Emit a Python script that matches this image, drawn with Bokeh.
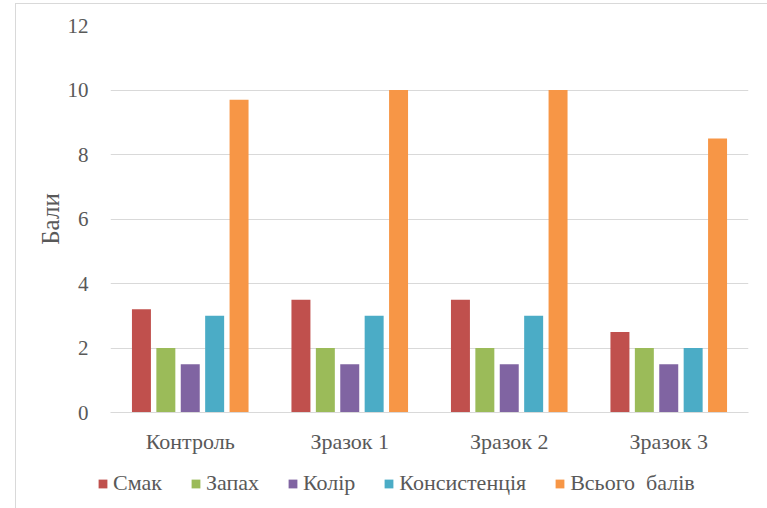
from bokeh.plotting import figure
from bokeh.layouts import column
from bokeh.models import ColumnDataSource, FactorRange, Legend, LegendItem, Range1d, FixedTicker
from bokeh.transform import dodge
from bokeh.embed import file_html
from bokeh.resources import INLINE

categories = ["Контроль", "Зразок 1", "Зразок 2", "Зразок 3"]
series_names = ["Смак", "Запах", "Колір", "Консистенція", "Всього\u00a0 балів"]
smak = [3.2, 3.5, 3.5, 2.5]
zapakh = [2.0, 2.0, 2.0, 2.0]
kolir = [1.5, 1.5, 1.5, 1.5]
konsystentsiia = [3.0, 3.0, 3.0, 2.0]
vsogo = [9.7, 10.0, 10.0, 8.5]
y_ticks = [0, 2, 4, 6, 8, 10, 12]

colors = ["#C0504D", "#9BBB59", "#8064A2", "#4BACC6", "#F79646"]
keys = ["smak", "zapakh", "kolir", "kons", "vsogo"]

source = ColumnDataSource(dict(cat=categories, smak=smak, zapakh=zapakh,
                               kolir=kolir, kons=konsystentsiia, vsogo=vsogo))

FONT = "Liberation Serif"
GREY = "#595959"
W = 751

# main bar chart
p = figure(x_range=FactorRange(*categories, range_padding=0), y_range=Range1d(0, 12),
           width=W, height=452, output_backend="svg", toolbar_location=None,
           min_border_left=94, min_border_right=19, min_border_top=21, min_border_bottom=43)
p.outline_line_color = None
p.frame_align = False

step = 0.153
bar_w = 0.119
for i, (k, c) in enumerate(zip(keys, colors)):
    p.vbar(x=dodge("cat", (i - 2) * step, range=p.x_range), top=k, width=bar_w,
           source=source, fill_color=c, line_color=None)

p.yaxis.ticker = FixedTicker(ticks=y_ticks)
p.yaxis.axis_label = "Бали"
p.yaxis.axis_label_text_font = FONT
p.yaxis.axis_label_text_font_style = "normal"
p.yaxis.axis_label_text_font_size = "25px"
p.yaxis.axis_label_text_color = GREY
p.yaxis.axis_label_standoff = 1
p.yaxis.major_label_text_font = FONT
p.yaxis.major_label_text_font_size = "21px"
p.yaxis.major_label_text_color = GREY
p.yaxis.major_label_standoff = 16
p.yaxis.axis_line_color = None
p.yaxis.major_tick_line_color = None
p.yaxis.minor_tick_line_color = None

p.xaxis.major_label_text_font = FONT
p.xaxis.major_label_text_font_size = "22px"
p.xaxis.major_label_text_color = GREY
p.xaxis.major_label_standoff = 10
p.xaxis.axis_line_color = "#d9d9d9"
p.xaxis.major_tick_line_color = None
p.xaxis.minor_tick_line_color = None

p.xgrid.grid_line_color = None
p.ygrid.grid_line_color = "#d9d9d9"
p.ygrid.grid_line_width = 1

# legend strip under the chart; its y range lies above the data, so the
# series renderers here only supply the legend swatches
lf = figure(width=W, height=52, output_backend="svg", toolbar_location=None,
            x_range=FactorRange(*categories), y_range=Range1d(100, 101),
            x_axis_location=None, y_axis_location=None,
            min_border_left=0, min_border_right=0, min_border_top=0, min_border_bottom=0)
lf.frame_align = False
lf.grid.visible = False
lf.outline_line_color = None
items = []
for k, name, c in zip(keys, series_names, colors):
    r = lf.vbar(x="cat", top=k, width=0.1, source=source, fill_color=c, line_color=None)
    items.append(LegendItem(label=name, renderers=[r]))

legend = Legend(items=items, orientation="horizontal", location=(81, 12),
                label_text_font=FONT, label_text_font_size="22px", label_text_color=GREY,
                glyph_width=11, glyph_height=11, spacing=28, label_standoff=5,
                border_line_color=None, background_fill_alpha=0, margin=0, padding=0)
lf.add_layout(legend, "center")

layout = column(p, lf, spacing=0)
layout.margin = (4, 0, 0, 16)
layout.styles = {"outline": "1px solid #d9d9d9"}

open("out.html", "w").write(file_html(layout, INLINE))
